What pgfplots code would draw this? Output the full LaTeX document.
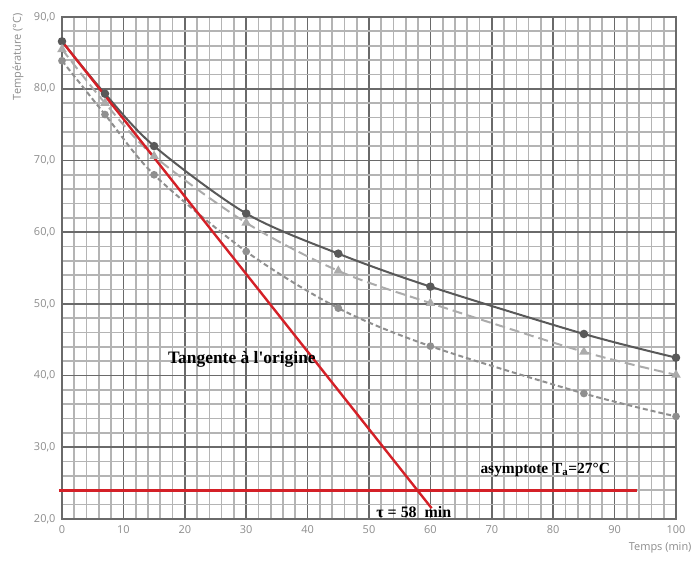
\documentclass[border=0pt]{standalone}
\usepackage{fontspec}
\setmainfont{Liberation Serif}
\setsansfont{Open Sans}
\usepackage{pgfplots}
\pgfplotsset{compat=1.18}

\definecolor{majgrid}{HTML}{6A6A6A}
\definecolor{mingrid}{HTML}{B4B4B4}
\definecolor{tickgray}{HTML}{8C8C8C}
\definecolor{sone}{HTML}{595959}
\definecolor{stwo}{HTML}{ABABAB}
\definecolor{sthree}{HTML}{8F8F8F}
\definecolor{redl}{HTML}{D42027}

\begin{document}
\begin{tikzpicture}
\begin{axis}[
  name=ax,
  width=614bp, height=502bp,
  scale only axis,
  xmin=0, xmax=100, ymin=20, ymax=90,
  xtick={0,10,...,100}, ytick={20,30,...,90},
  minor x tick num=4, minor y tick num=4,
  grid=both,
  major grid style={majgrid, line width=1.7bp},
  minor grid style={mingrid, line width=1.7bp},
  axis line style={majgrid, line width=1.7bp},
  tick style={draw=none},
  clip=false,
  /pgf/number format/assume math mode=true,
  ticklabel style={font=\sffamily\fontsize{11}{13}\selectfont, text=tickgray},
  yticklabel style={xshift=-3bp, /pgf/number format/fixed, /pgf/number format/fixed zerofill,
    /pgf/number format/precision=1, /pgf/number format/use comma},
  xticklabel style={yshift=-3bp, /pgf/number format/fixed, /pgf/number format/precision=0},
]
% serie 1 : ronds, trait plein
\addplot[sone, line width=2bp, smooth, tension=0.5, mark=*, mark size=3.2bp,
  mark options={solid, fill=sone}] coordinates {
  (0,86.6) (7,79.3) (15,72.0) (30,62.6) (45,57.0) (60,52.4) (85,45.8) (100,42.5)
};
% serie 2 : triangles, tirets longs
\addplot[stwo, line width=2bp, smooth, tension=0.5, dash pattern=on 10bp off 5bp,
  mark=triangle*, mark size=3.5bp, mark options={solid, fill=stwo}] coordinates {
  (0,85.5) (7,78.0) (15,70.6) (30,61.3) (45,54.6) (60,50.1) (85,43.3) (100,40.1)
};
% serie 3 : tirets courts
\addplot[sthree, line width=2bp, smooth, tension=0.5, dash pattern=on 5bp off 3bp,
  mark=*, mark size=2.8bp, mark options={solid, fill=sthree}] coordinates {
  (0,83.9) (7,76.4) (15,68.0) (30,57.3) (45,49.4) (60,44.1) (85,37.5) (100,34.3)
};
% tangente a l'origine
\addplot[redl, line width=2.4bp] coordinates {(0,86.6) (60.2,21.5)};
% asymptote
\addplot[redl, line width=2.4bp] coordinates {(-0.5,24) (93.7,24)};

\node[font=\bfseries\fontsize{17.5}{20}\selectfont] at (axis cs:29.3,42.2) {Tangente à l\textquotesingle origine};
\node[font=\bfseries\fontsize{15.5}{18}\selectfont] at (axis cs:78.7,26.8) {asymptote T\textsubscript{a}=27°C};
\node[font=\bfseries\fontsize{16}{18}\selectfont] at (axis cs:57.3,21.0) {τ = 58\ \ min};
\end{axis}
\node[rotate=90, anchor=east, text=tickgray, font=\sffamily\fontsize{11}{13}\selectfont]
  at ([xshift=-44bp,yshift=7bp]ax.north west) {Température (°C)};
\node[anchor=east, text=tickgray, font=\sffamily\fontsize{11}{13}\selectfont]
  at ([xshift=19bp,yshift=-29bp]ax.south east) {Temps (min)};
\pgfresetboundingbox
\path[use as bounding box] ([xshift=-62bp,yshift=-44bp]ax.south west)
  rectangle ([xshift=21bp,yshift=17bp]ax.north east);
\end{tikzpicture}
\end{document}
